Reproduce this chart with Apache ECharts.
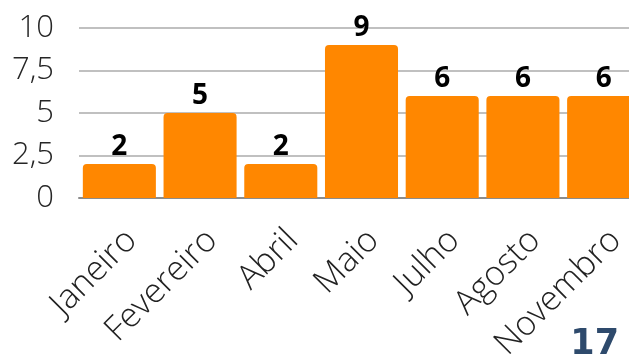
<!DOCTYPE html>
<html>
<head>
<meta charset="utf-8">
<script src="https://cdn.jsdelivr.net/npm/echarts@6/dist/echarts.min.js"></script>
<style>
  html, body { margin: 0; padding: 0; background: #ffffff; }
  #chart { width: 629px; height: 360px; }
</style>
</head>
<body>
<div id="chart"></div>
<script>
// Monthly counts
const months = ['Janeiro', 'Fevereiro', 'Abril', 'Maio', 'Julho', 'Agosto', 'Novembro'];
const counts = [2, 5, 2, 9, 6, 6, 6];
const yTicks = [0, 2.5, 5, 7.5, 10];
const pageNumber = '17';

const chart = echarts.init(document.getElementById('chart'), null, { renderer: 'canvas' });

chart.setOption({
  animation: false,
  backgroundColor: '#ffffff',
  // the plot runs past the right edge of the page, clipping the last bar
  grid: { left: 79, width: 565, top: 28, height: 170, containLabel: false, outerBoundsMode: 'none' },
  xAxis: {
    type: 'category',
    data: months,
    axisTick: { show: false },
    axisLine: { show: true, lineStyle: { color: '#8c8c8c', width: 2 } },
    axisLabel: {
      rotate: 45,
      margin: 25,
      interval: 0,
      verticalAlign: 'top',
      fontFamily: 'Open Sans',
      fontWeight: 300,
      fontSize: 34,
      color: '#222222'
    }
  },
  yAxis: {
    type: 'value',
    min: yTicks[0],
    max: yTicks[yTicks.length - 1],
    interval: yTicks[1] - yTicks[0],
    axisLine: { show: false },
    axisTick: { show: false },
    splitLine: { lineStyle: { color: '#c0c0c0', width: 2 } },
    axisLabel: {
      margin: 25,
      fontFamily: 'Open Sans',
      fontWeight: 300,
      fontSize: 31,
      color: '#262626',
      formatter: v => String(v).replace('.', ',')
    }
  },
  series: [{
    type: 'bar',
    data: counts,
    barCategoryGap: '9.5%',
    itemStyle: { color: '#ff8700', borderRadius: [4, 4, 0, 0] },
    label: {
      show: true,
      position: 'top',
      distance: 3,
      fontFamily: 'Open Sans',
      fontWeight: 'bold',
      fontSize: 28,
      color: '#000000'
    }
  }],
  graphic: [{
    type: 'text',
    x: 619,
    y: 345,
    style: {
      text: pageNumber,
      align: 'right',
      verticalAlign: 'middle',
      fontFamily: 'DejaVu Sans',
      fontWeight: 'bold',
      fontSize: 35,
      fill: '#2e4a6c'
    }
  }]
});
</script>
</body>
</html>
